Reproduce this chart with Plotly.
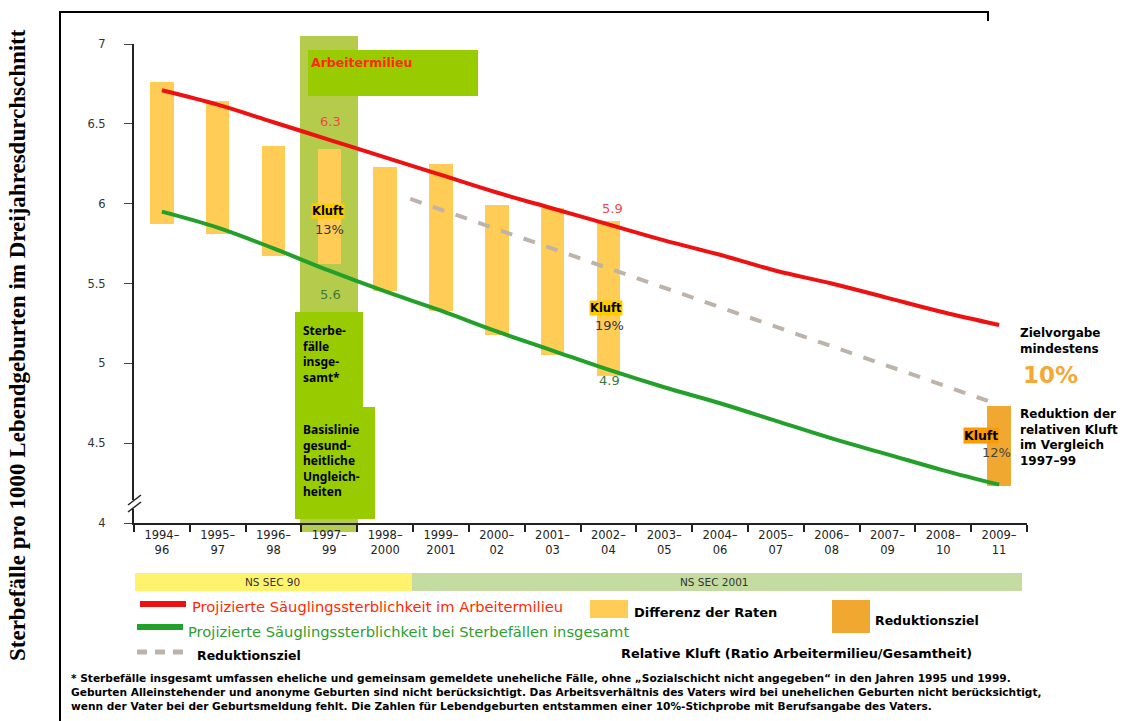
import plotly.graph_objects as go

# ---------------- data ----------------
periods = ["1994–<br>96", "1995–<br>97", "1996–<br>98", "1997–<br>99", "1998–<br>2000",
           "1999–<br>2001", "2000–<br>02", "2001–<br>03", "2002–<br>04", "2003–<br>05",
           "2004–<br>06", "2005–<br>07", "2006–<br>08", "2007–<br>09", "2008–<br>10", "2009–<br>11"]
red_proj = [6.71, 6.62, 6.51, 6.40, 6.29, 6.18, 6.07, 5.97, 5.87, 5.77, 5.68, 5.58, 5.50, 5.41, 5.32, 5.24]
green_proj = [5.95, 5.85, 5.72, 5.58, 5.45, 5.33, 5.20, 5.08, 4.96, 4.85, 4.75, 4.64, 4.53, 4.43, 4.33, 4.24]
gap_top = [6.76, 6.64, 6.36, 6.34, 6.23, 6.25, 5.99, 5.97, 5.89]
gap_bottom = [5.87, 5.81, 5.67, 5.62, 5.45, 5.33, 5.18, 5.05, 4.92]
target_top = [4.73]
target_bottom = [4.23]
target_idx = [15]
reduction_x = [4.45, 15]
reduction_y = [6.03, 4.74]
y_ticks = [4, 4.5, 5, 5.5, 6, 6.5, 7]

idx = list(range(len(periods)))

# ---------------- helpers (pixel -> paper) ----------------
L, R, T, B = 134, 1027, 44, 523
def px(x):
    return (x - L) / (R - L)
def py(y):
    return (B - y) / (B - T)

COMIC = "DejaVu Sans, sans-serif"
fig = go.Figure()

fig.add_trace(go.Bar(x=idx[:len(gap_top)], y=[t - b for t, b in zip(gap_top, gap_bottom)],
                     base=gap_bottom, width=0.42, marker=dict(color="#FFCD55", line=dict(width=0)),
                     showlegend=False, hoverinfo="skip"))
fig.add_trace(go.Bar(x=target_idx, y=[t - b for t, b in zip(target_top, target_bottom)],
                     base=target_bottom, width=0.44, marker=dict(color="#F0A830", line=dict(width=0)),
                     showlegend=False, hoverinfo="skip"))
fig.add_trace(go.Scatter(x=reduction_x, y=reduction_y, mode="lines",
                         line=dict(color="#BDB3A8", width=4, dash="dash"), showlegend=False))
fig.add_trace(go.Scatter(x=idx, y=red_proj, mode="lines", line=dict(color="#EE1111", width=4, shape="spline"),
                         showlegend=False))
fig.add_trace(go.Scatter(x=idx, y=green_proj, mode="lines", line=dict(color="#22A02A", width=4, shape="spline"),
                         showlegend=False))

shapes = []
# highlight column 1997-99
shapes.append(dict(type="rect", xref="paper", yref="paper", x0=px(300), x1=px(358), y0=py(532), y1=py(36),
                   fillcolor="#B5CB4C", line=dict(width=0), layer="below"))
# green boxes
shapes.append(dict(type="rect", xref="paper", yref="paper", x0=px(308), x1=px(478), y0=py(96), y1=py(50),
                   fillcolor="#99CC00", line=dict(width=0), layer="above"))
shapes.append(dict(type="rect", xref="paper", yref="paper", x0=px(295), x1=px(363), y0=py(408), y1=py(312),
                   fillcolor="#99CC00", line=dict(width=0), layer="below"))
shapes.append(dict(type="rect", xref="paper", yref="paper", x0=px(295), x1=px(375), y0=py(519), y1=py(407),
                   fillcolor="#99CC00", line=dict(width=0), layer="below"))
# border frame
shapes.append(dict(type="line", xref="paper", yref="paper", x0=px(60), x1=px(989), y0=py(12), y1=py(12),
                   line=dict(color="black", width=2)))
shapes.append(dict(type="line", xref="paper", yref="paper", x0=px(60), x1=px(60), y0=py(11), y1=py(721),
                   line=dict(color="black", width=2)))
shapes.append(dict(type="line", xref="paper", yref="paper", x0=px(988), x1=px(988), y0=py(11), y1=py(21),
                   line=dict(color="black", width=2)))
# axis break marks
shapes.append(dict(type="rect", xref="paper", yref="paper", x0=px(130), x1=px(139), y0=py(509), y1=py(500),
                   fillcolor="white", line=dict(width=0)))
shapes.append(dict(type="line", xref="paper", yref="paper", x0=px(128), x1=px(141), y0=py(505), y1=py(495),
                   line=dict(color="#222", width=1.5)))
shapes.append(dict(type="line", xref="paper", yref="paper", x0=px(128), x1=px(141), y0=py(512), y1=py(502),
                   line=dict(color="#222", width=1.5)))
# NS SEC bars
shapes.append(dict(type="rect", xref="paper", yref="paper", x0=px(135), x1=px(412), y0=py(591), y1=py(573),
                   fillcolor="#FFF36E", line=dict(width=0)))
shapes.append(dict(type="rect", xref="paper", yref="paper", x0=px(412), x1=px(1022), y0=py(591), y1=py(573),
                   fillcolor="#C4DCA2", line=dict(width=0)))
# legend symbols
shapes.append(dict(type="line", xref="paper", yref="paper", x0=px(140), x1=px(186), y0=py(604), y1=py(604),
                   line=dict(color="#EE1111", width=6)))
shapes.append(dict(type="line", xref="paper", yref="paper", x0=px(137), x1=px(183), y0=py(627), y1=py(627),
                   line=dict(color="#22A02A", width=6)))
for a, b in [(137, 147), (155, 165), (173, 183)]:
    shapes.append(dict(type="line", xref="paper", yref="paper", x0=px(a), x1=px(b), y0=py(652), y1=py(652),
                       line=dict(color="#BDB3A8", width=5)))
shapes.append(dict(type="rect", xref="paper", yref="paper", x0=px(590), x1=px(628), y0=py(618), y1=py(600),
                   fillcolor="#FFCD55", line=dict(width=0)))
shapes.append(dict(type="rect", xref="paper", yref="paper", x0=px(832), x1=px(870), y0=py(633), y1=py(600),
                   fillcolor="#F0A830", line=dict(width=0)))

ann = []
def note(x, y, text, size=12, color="black", xanchor="left", yanchor="middle", bold=False, font=COMIC,
         bg=None, angle=0, align="left"):
    d = dict(xref="paper", yref="paper", x=px(x), y=py(y), text=("<b>%s</b>" % text) if bold else text,
             showarrow=False, xanchor=xanchor, yanchor=yanchor, align=align, textangle=angle,
             font=dict(size=size, color=color, family=font), borderpad=0)
    if bg:
        d["bgcolor"] = bg
    ann.append(d)

note(17, 345, "Sterbefälle pro 1000 Lebendgeburten im Dreijahresdurchschnitt", size=23, bold=True,
     font="Liberation Serif, Times New Roman, serif", xanchor="center", angle=-90)
note(310, 62, "Arbeitermilieu", size=12.5, color="#FF2A00", bold=True)
note(330, 121, "6.3", size=13, color="#F04848", xanchor="center")
note(311, 211, "Kluft", size=11.5, bold=True, bg="#FFCC00")
note(329, 229, "13%", size=13, color="#333", xanchor="center")
note(330, 294, "5.6", size=13, color="#3B7A3B", xanchor="center")
note(302, 354, "Sterbe-<br>fälle<br>insge-<br>samt*", size=12, bold=True, font="Noto Sans, sans-serif")
note(302, 460, "Basislinie<br>gesund-<br>heitliche<br>Ungleich-<br>heiten", size=12, bold=True,
     font="Noto Sans, sans-serif")
note(612, 208, "5.9", size=13, color="#F04848", xanchor="center")
note(589, 308, "Kluft", size=11.5, bold=True, bg="#FFCC00")
note(609, 325, "19%", size=13, color="#333", xanchor="center")
note(609, 381, "4.9", size=13, color="#3B7A3B", xanchor="center")
note(963, 435, "Kluft", size=12.5, bold=True, bg="#FF9900")
note(996, 452, "12%", size=13, color="#444", xanchor="center")
note(1019, 341, "Zielvorgabe<br>mindestens", size=12, bold=True)
note(1022, 375, "10%", size=23, color="#F5A833", bold=True)
note(1019, 437, "Reduktion der<br>relativen Kluft<br>im Vergleich<br>1997–99", size=12, bold=True)
note(272, 582, "NS SEC 90", size=10.5, color="#333", xanchor="center")
note(714, 582, "NS SEC 2001", size=10.5, color="#333", xanchor="center")
note(191, 606, "Projizierte Säuglingssterblichkeit im Arbeitermilieu", size=14.7, color="#FF2A00")
note(187, 631, "Projizierte Säuglingssterblichkeit bei Sterbefällen insgesamt", size=14.7, color="#2E9E2E")
note(196, 655, "Reduktionsziel", size=12.5, bold=True)
note(633, 612, "Differenz der Raten", size=13, bold=True)
note(874, 620, "Reduktionsziel", size=12.5, bold=True)
note(620, 653, "Relative Kluft (Ratio Arbeitermilieu/Gesamtheit)", size=12.9, bold=True)
note(70, 692, "* Sterbefälle insgesamt umfassen eheliche und gemeinsam gemeldete uneheliche Fälle, ohne „Sozialschicht nicht angegeben“ in den Jahren 1995 und 1999.<br>"
              "Geburten Alleinstehender und anonyme Geburten sind nicht berücksichtigt. Das Arbeitsverhältnis des Vaters wird bei unehelichen Geburten nicht berücksichtigt,<br>"
              "wenn der Vater bei der Geburtsmeldung fehlt. Die Zahlen für Lebendgeburten entstammen einer 10%-Stichprobe mit Berufsangabe des Vaters.",
     size=10.6, bold=True)

fig.update_layout(
    width=1126, height=721, margin=dict(l=L, r=1126 - R, t=T, b=721 - B),
    paper_bgcolor="white", plot_bgcolor="white", showlegend=False, bargap=0,
    shapes=shapes, annotations=ann,
    xaxis=dict(range=[-0.5, len(periods) - 0.5], tickmode="array", tickvals=idx, ticktext=periods,
               ticks="", showgrid=False, zeroline=False, showline=True, linecolor="#222", linewidth=2,
               tickfont=dict(size=11.5, color="#222", family="DejaVu Sans, sans-serif"),
               minor=dict(tickmode="array", tickvals=[i - 0.5 for i in range(len(periods) + 1)],
                          ticks="outside", ticklen=7, tickcolor="#222", tickwidth=1.5, showgrid=False)),
    yaxis=dict(range=[4, 7], tickmode="array", tickvals=y_ticks, ticktext=[("%g" % v) for v in y_ticks],
               ticks="outside", ticklen=8, tickcolor="#444", tickwidth=1, showgrid=False, zeroline=False,
               showline=True, linecolor="#222", linewidth=2, ticklabelstandoff=16,
               tickfont=dict(size=11.5, color="#333", family="DejaVu Sans, sans-serif")),
)

fig.write_html("out.html")
